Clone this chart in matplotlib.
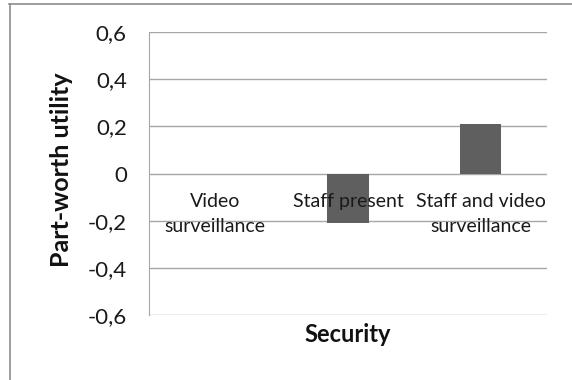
import matplotlib
matplotlib.use("Agg")
import matplotlib.pyplot as plt
from matplotlib.lines import Line2D

categories = ["Video\nsurveillance", "Staff present", "Staff and video\nsurveillance"]
values = [0.0, -0.21, 0.21]
yticks = [-0.6, -0.4, -0.2, 0.0, 0.2, 0.4, 0.6]
ytick_labels = ["-0,6", "-0,4", "-0,2", "0", "0,2", "0,4", "0,6"]

plt.rcParams["font.family"] = ["Lato", "DejaVu Sans"]

fig = plt.figure(figsize=(5.72, 3.8), dpi=100)
ax = fig.add_axes([149/572, 1-315/380, 398/572, 283/380])

x = list(range(len(categories)))
ax.bar(x, values, width=0.31, color="#5f5f5f", zorder=3)
ax.set_xlim(-0.5, 2.5)
ax.set_ylim(-0.6, 0.6)
ax.set_yticks(yticks)
ax.set_yticklabels(ytick_labels)
ax.yaxis.grid(True, color="#a6a6a6", linewidth=1.0)
ax.set_axisbelow(True)
ax.xaxis.set_zorder(4)

for s in ["top", "right"]:
    ax.spines[s].set_visible(False)
ax.spines["left"].set_color("#a6a6a6")
ax.spines["left"].set_zorder(1)
ax.spines["bottom"].set_position(("data", 0))
ax.spines["bottom"].set_visible(False)

ax.set_xticks(x)
ax.set_xticklabels(categories, fontsize=14, color="#1a1a1a", linespacing=1.6)
ax.tick_params(axis="x", length=0, pad=14)
ax.tick_params(axis="y", length=0, pad=16, labelsize=16, labelcolor="#1a1a1a")

fig.text(62/572, 1-170/380, "Part-worth utility", fontsize=18, fontweight="bold",
         rotation=90, ha="center", va="center", color="#111111")
fig.text(348/572, 1-335/380, "Security", fontsize=17, fontweight="bold",
         ha="center", va="center", color="#111111")

# outer chart frame (top and left edges visible)
fig.add_artist(Line2D([9/572, 1.0], [1-3.5/380, 1-3.5/380], transform=fig.transFigure,
                      color="#8c8c8c", linewidth=1.2))
fig.add_artist(Line2D([9.5/572, 9.5/572], [0, 1-3.5/380], transform=fig.transFigure,
                      color="#8c8c8c", linewidth=1.2))

fig.savefig("out.png", dpi=100)
